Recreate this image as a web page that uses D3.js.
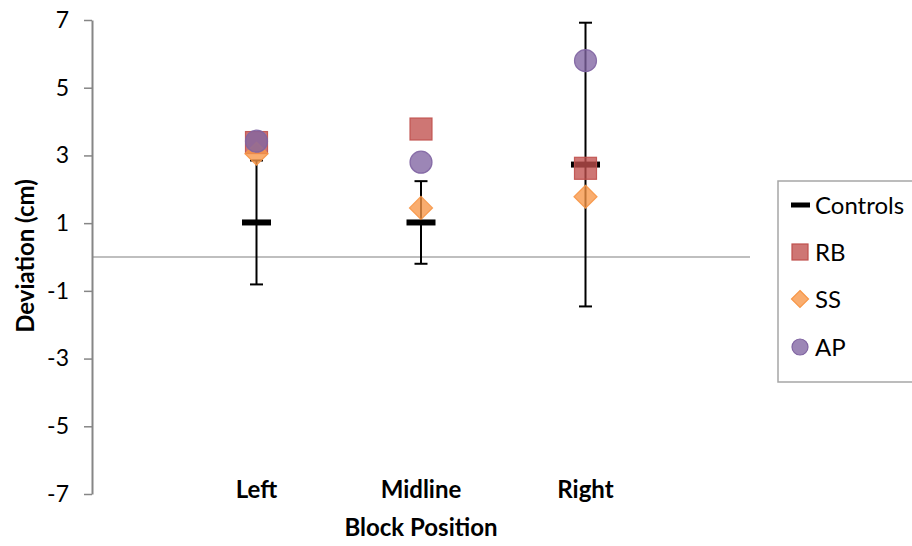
<!DOCTYPE html>
<html><head><meta charset="utf-8">
<script src="https://cdn.jsdelivr.net/npm/d3@7"></script>
<style>
body{margin:0;background:#fff;}
svg{display:block;font-family:Lato,"Open Sans",sans-serif;}
</style></head>
<body>
<svg id="chart" width="912" height="546"></svg>
<script>
// ---- data ----
const categories = ["Left", "Midline", "Right"];
const controlsMean = [1.02, 1.02, 2.73];
const controlsErr = [1.83, 1.22, 4.19];
const rbValues = [3.38, 3.78, 2.62];
const ssValues = [3.05, 1.45, 1.78];
const apValues = [3.42, 2.80, 5.80];
const yTicks = [-7, -5, -3, -1, 1, 3, 5, 7];
const seriesNames = ["Controls", "RB", "SS", "AP"];

const svg = d3.select("#chart");
const x = d3.scaleLinear().domain([0, 4]).range([92, 750]);
const y = d3.scaleLinear().domain([-7, 7]).range([494, 20]);
const xPos = i => x(i + 1);

const colors = {RB: "#C0504D", SS: "#F79646", AP: "#8064A2"};

// zero line
svg.append("line").attr("x1", x(0)).attr("x2", x(4)).attr("y1", y(0)).attr("y2", y(0))
  .attr("stroke", "#bfbfbf").attr("stroke-width", 2);

// y axis
const yAxis = svg.append("g").attr("transform", `translate(${x(0)},0)`)
  .call(d3.axisLeft(y).tickValues(yTicks).tickSize(8).tickSizeOuter(0).tickPadding(15).tickFormat(d => String(d)));
yAxis.select(".domain").attr("stroke", "#868686").attr("stroke-width", 2);
yAxis.selectAll(".tick line").attr("stroke", "#868686").attr("stroke-width", 1.5);
yAxis.selectAll(".tick text").attr("font-size", 23).attr("fill", "#000").attr("font-family", "Lato");

// category labels
svg.append("g").selectAll("text").data(categories).join("text")
  .attr("x", (d, i) => xPos(i)).attr("y", 498).attr("text-anchor", "middle")
  .attr("font-size", 24).attr("font-weight", "bold").text(d => d);

// axis titles
svg.append("text").attr("x", x(2)).attr("y", 536).attr("text-anchor", "middle")
  .attr("font-size", 24).attr("font-weight", "bold").text("Block Position");
svg.append("text").attr("transform", `translate(34,256) rotate(-90)`).attr("text-anchor", "middle")
  .attr("font-size", 24).attr("font-weight", "bold").text("Deviation (cm)");

// error bars for controls
const eb = svg.append("g").attr("stroke", "#000").attr("stroke-width", 2);
controlsMean.forEach((m, i) => {
  const cx = xPos(i), e = controlsErr[i];
  eb.append("line").attr("x1", cx).attr("x2", cx).attr("y1", y(m - e)).attr("y2", y(m + e));
  eb.append("line").attr("x1", cx - 6.5).attr("x2", cx + 6.5).attr("y1", y(m - e)).attr("y2", y(m - e));
  eb.append("line").attr("x1", cx - 6.5).attr("x2", cx + 6.5).attr("y1", y(m + e)).attr("y2", y(m + e));
});
// controls dash markers
svg.append("g").selectAll("rect").data(controlsMean).join("rect")
  .attr("x", (d, i) => xPos(i) - 14.5).attr("y", d => y(d) - 3).attr("width", 29).attr("height", 6)
  .attr("fill", "#000");

// RB squares
svg.append("g").selectAll("rect").data(rbValues).join("rect")
  .attr("x", (d, i) => xPos(i) - 11).attr("y", d => y(d) - 11).attr("width", 22).attr("height", 22)
  .attr("fill", colors.RB).attr("fill-opacity", 0.78).attr("stroke", colors.RB).attr("stroke-opacity", 0.9).attr("stroke-width", 1.2);
// SS diamonds
svg.append("g").selectAll("path").data(ssValues).join("path")
  .attr("d", (d, i) => { const cx = xPos(i), cy = y(d), r = 11.5; return `M${cx},${cy - r}L${cx + r},${cy}L${cx},${cy + r}L${cx - r},${cy}Z`; })
  .attr("fill", colors.SS).attr("fill-opacity", 0.78).attr("stroke", colors.SS).attr("stroke-opacity", 0.9).attr("stroke-width", 1.2);
// AP circles
svg.append("g").selectAll("circle").data(apValues).join("circle")
  .attr("cx", (d, i) => xPos(i)).attr("cy", d => y(d)).attr("r", 11)
  .attr("fill", colors.AP).attr("fill-opacity", 0.78).attr("stroke", colors.AP).attr("stroke-opacity", 0.9).attr("stroke-width", 1.2);

// legend
const lg = svg.append("g");
lg.append("rect").attr("x", 778).attr("y", 181).attr("width", 150).attr("height", 201)
  .attr("fill", "#fff").attr("stroke", "#a6a6a6").attr("stroke-width", 1.5);
const ly = [205, 252, 299, 347];
seriesNames.forEach((name, i) => {
  const cy = ly[i], cx = 800;
  if (name === "Controls") {
    lg.append("rect").attr("x", 791).attr("y", cy - 2.5).attr("width", 19).attr("height", 5).attr("fill", "#000");
  } else if (name === "RB") {
    lg.append("rect").attr("x", cx - 8).attr("y", cy - 8).attr("width", 16).attr("height", 16)
      .attr("fill", colors.RB).attr("fill-opacity", 0.78).attr("stroke", colors.RB).attr("stroke-width", 1.2);
  } else if (name === "SS") {
    const r = 8.5;
    lg.append("path").attr("d", `M${cx},${cy - r}L${cx + r},${cy}L${cx},${cy + r}L${cx - r},${cy}Z`)
      .attr("fill", colors.SS).attr("fill-opacity", 0.78).attr("stroke", colors.SS).attr("stroke-width", 1.2);
  } else {
    lg.append("circle").attr("cx", cx).attr("cy", cy).attr("r", 8)
      .attr("fill", colors.AP).attr("fill-opacity", 0.78).attr("stroke", colors.AP).attr("stroke-width", 1.2);
  }
  lg.append("text").attr("x", 815).attr("y", cy).attr("dy", "0.36em").attr("font-size", 24).text(name);
});
</script>
</body></html>
